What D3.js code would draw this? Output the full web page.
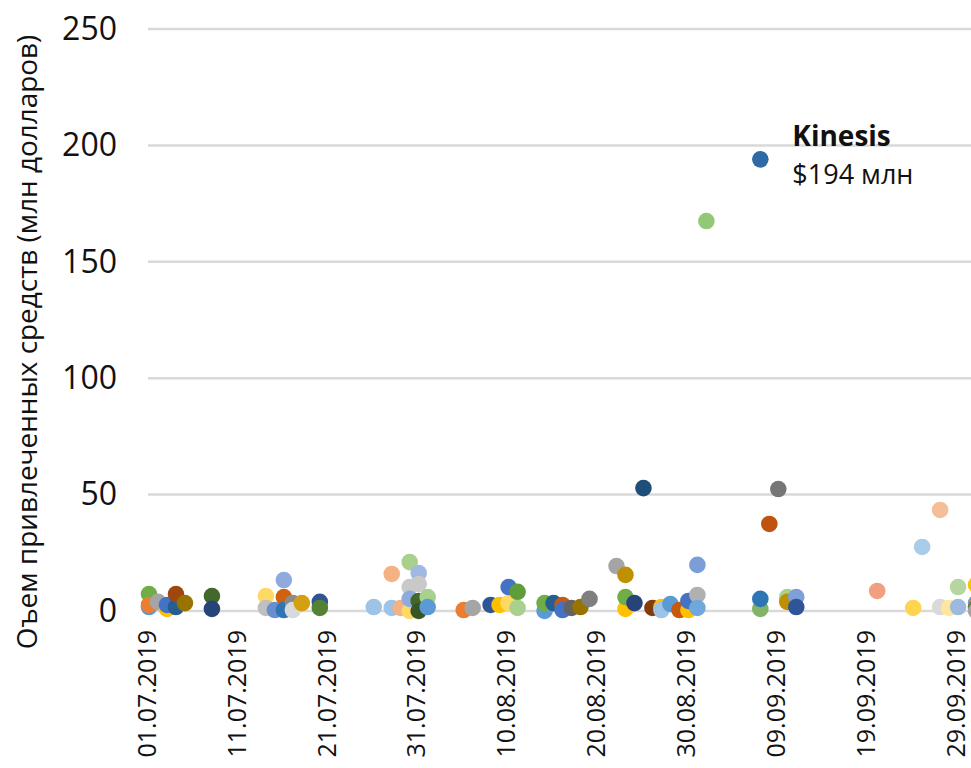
<!DOCTYPE html>
<html>
<head>
<meta charset="utf-8">
<script src="https://cdn.jsdelivr.net/npm/d3@7"></script>
<style>
  html, body { margin: 0; padding: 0; background: #fff; }
  svg { display: block; font-family: "Open Sans", "DejaVu Sans", sans-serif; }
</style>
</head>
<body>
<svg id="chart" width="971" height="768"></svg>
<script>
// ---------- data ----------
const dates = [
  "01.07.2019","01.07.2019","01.07.2019","02.07.2019","03.07.2019","03.07.2019","04.07.2019","04.07.2019","05.07.2019","08.07.2019","08.07.2019",
  "14.07.2019","14.07.2019","15.07.2019","16.07.2019","16.07.2019","16.07.2019","17.07.2019","17.07.2019","18.07.2019","20.07.2019","20.07.2019",
  "26.07.2019","28.07.2019","29.07.2019","28.07.2019","30.07.2019","31.07.2019","30.07.2019","31.07.2019","30.07.2019","30.07.2019","31.07.2019","31.07.2019","01.08.2019","01.08.2019",
  "05.08.2019","06.08.2019","08.08.2019","09.08.2019","10.08.2019","10.08.2019","11.08.2019","11.08.2019",
  "14.08.2019","14.08.2019","15.08.2019","16.08.2019","16.08.2019","17.08.2019","18.08.2019","19.08.2019","22.08.2019","23.08.2019","23.08.2019","23.08.2019","24.08.2019","25.08.2019","26.08.2019","27.08.2019","27.08.2019","28.08.2019",
  "29.08.2019","30.08.2019","30.08.2019","31.08.2019","31.08.2019","31.08.2019","01.09.2019","07.09.2019","07.09.2019","07.09.2019","08.09.2019","09.09.2019","10.09.2019","10.09.2019","11.09.2019","11.09.2019",
  "20.09.2019","24.09.2019","25.09.2019","27.09.2019","27.09.2019","28.09.2019","29.09.2019","29.09.2019","01.10.2019","01.10.2019","01.10.2019","01.10.2019","01.10.2019"
];
const values = [
  7.3,1.7,2.6,3.9,0.9,2.6,1.7,7.3,3.4,6.4,0.9,
  6.4,1.3,0.4,13.3,6.0,0.4,3.4,0.4,3.4,3.9,1.3,
  1.7,1.3,1.3,15.9,21.0,16.3,10.3,11.6,0,5.2,4.3,0,6.0,1.7,
  0.4,1.3,2.6,2.6,3.4,10.3,8.2,1.3,
  0,3.4,3.4,2.6,0.4,1.3,1.7,5.2,19.3,15.5,0.9,6.0,3.4,52.8,1.3,1.7,0.4,3.0,
  0.4,0.4,4.3,19.8,6.9,1.3,167.5,194,0.9,5.2,37.4,52.4,6.0,3.9,6.0,1.7,
  8.6,1.3,27.5,43.4,1.7,1.3,10.3,1.7,11.2,3.4,2.0,1.3,0
];
const colors = [
  "#70AD47","#5B9BD5","#ED7D31","#A5A5A5","#FFC000","#4472C4","#255E91","#9E480E","#997300","#43682B","#264478",
  "#FFD966","#BFBFBF","#698ED0","#8FAADC","#D0620F","#2E75B6","#8C8C8C","#D9D9D9","#D4A00F","#2F5597","#548235",
  "#9DC3E6","#9DC3E6","#F4B183","#F4B183","#A9D18E","#A0B8E4","#C9C9C9","#C9C9C9","#FFD966","#8FAADC","#43682B","#375623","#A9D18E","#5B9BD5",
  "#ED7D31","#A5A5A5","#2F5597","#FFC000","#FFD966","#4472C4","#5E9E3A","#A9D18E",
  "#5B9BD5","#70AD47","#255E91","#C55A11","#4472C4","#636363","#997300","#7F7F7F","#A5A5A5","#BF9000","#FFC000","#70AD47","#264478","#1F4E79","#843C0C","#FFC000","#9DC3E6","#5B9BD5",
  "#C55A11","#FFC000","#4472C4","#7C9ED8","#B0B0B0","#6FA8DC","#93C876","#2E6AA6","#82B366","#2E75B6","#C0530F","#767676","#A9D18E","#BF9000","#7F9FD9","#2F5597",
  "#F0A080","#FFD54F","#A9CCEB","#F6BE98","#D9D9D9","#FFE699","#B5D6A0","#9DB9E0","#FFC000","#5B9BD5","#ED7D31","#548235","#A5A5A5"
];
const xTickLabels = ["01.07.2019","11.07.2019","21.07.2019","31.07.2019","10.08.2019","20.08.2019","30.08.2019","09.09.2019","19.09.2019","29.09.2019"];
const yTicks = [0, 50, 100, 150, 200, 250];
const yTitle = "Оъем привлеченных средств (млн долларов)";
const highlightName = "Kinesis";
const highlightDate = "07.09.2019";
const highlightValue = 194;

// ---------- chart ----------
const parse = d3.timeParse("%d.%m.%Y");
const svg = d3.select("#chart");
const x0 = 149, y0 = 611, yTop = 29, dayPx = 8.99;
const xStart = parse("01.07.2019"), xEnd = parse("03.10.2019");
const nDays = d3.timeDay.count(xStart, xEnd);
const x = d3.scaleTime().domain([xStart, xEnd]).range([x0, x0 + nDays * dayPx]);
const y = d3.scaleLinear().domain([0, 250]).range([y0, yTop]);

// gridlines
svg.append("g").selectAll("line").data(yTicks).join("line")
  .attr("x1", x0 - 1).attr("x2", x.range()[1])
  .attr("y1", d => y(d)).attr("y2", d => y(d))
  .attr("stroke", "#D9D9D9").attr("stroke-width", 2.5);

// y axis
const yAxis = svg.append("g").attr("transform", `translate(${x0 - 1},0)`)
  .call(d3.axisLeft(y).tickValues(yTicks).tickSize(0).tickPadding(31));
yAxis.select(".domain").remove();
yAxis.selectAll("text").attr("font-size", 32).attr("fill", "#111").attr("font-family", "'Open Sans', sans-serif");

// x axis
const xAxis = svg.append("g").attr("transform", `translate(0,${y0})`)
  .call(d3.axisBottom(x).tickValues(xTickLabels.map(parse)).tickFormat(d3.timeFormat("%d.%m.%Y")).tickSize(0));
xAxis.select(".domain").remove();
xAxis.selectAll("text")
  .attr("font-size", 25).attr("fill", "#111").attr("font-family", "'Open Sans', sans-serif")
  .attr("transform", "rotate(-90)")
  .attr("text-anchor", "end")
  .attr("x", -19).attr("y", 0).attr("dy", "0.25em");

// y title
const title = svg.append("text")
  .attr("transform", `translate(27,342) rotate(-90)`)
  .attr("text-anchor", "middle").attr("dy", "0.35em")
  .attr("font-size", 24).attr("fill", "#111")
  .text(yTitle);
const tl = title.node().getComputedTextLength();
title.attr("font-size", 24 * 615 / tl);

// points
const pts = dates.map((d, i) => ({ date: parse(d), value: values[i], color: colors[i] }));
svg.append("g").selectAll("circle").data(pts).join("circle")
  .attr("cx", d => x(d.date)).attr("cy", d => y(d.value))
  .attr("r", 8.3).attr("fill", d => d.color);

// annotation (one text block, two lines)
const hx = x(parse(highlightDate)), hy = y(highlightValue);
const ann = svg.append("text").attr("fill", "#111").attr("font-size", 27);
ann.append("tspan").attr("x", hx + 32).attr("y", hy - 13)
  .attr("font-size", 28).attr("font-weight", "bold").text(highlightName);
ann.append("tspan").attr("x", hx + 32).attr("y", hy + 25)
  .text(`$${highlightValue} млн`);
</script>
</body>
</html>
